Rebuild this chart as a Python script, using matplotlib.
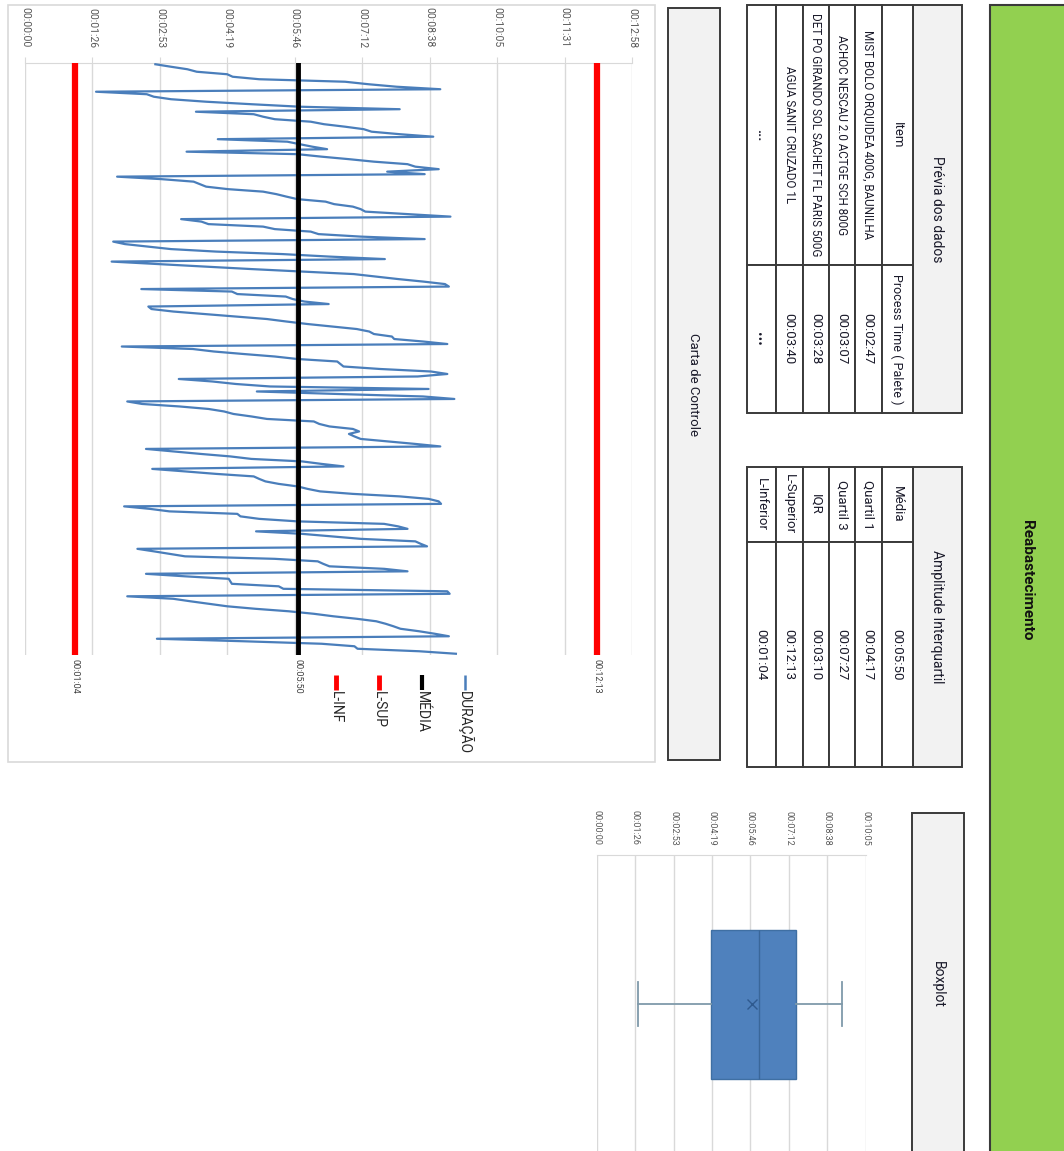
import matplotlib
matplotlib.use('Agg')
import matplotlib.pyplot as plt
from matplotlib.patches import Rectangle

W, H = 1064, 1151
DPI = 100
FONT = ['Roboto', 'DejaVu Sans']
plt.rcParams['font.family'] = FONT

# ---------------- data ----------------
# process time of each pallet, seconds (top to bottom)
duracao_s = [
    167, 187, 208, 220, 259, 266, 300, 410, 440, 476, 532,
    91, 156, 165, 187, 232, 290, 352, 480,
    219, 293, 305, 320, 366, 383, 410, 434, 444, 480, 523,
    247, 336, 352, 368, 387,
    207, 349, 380, 415, 447, 490, 500, 530, 464, 512,
    118, 175, 216, 224, 232, 260, 305, 322, 335, 349, 385, 396, 420, 430, 436, 490, 545,
    200, 226, 235, 305, 320, 366, 376, 430, 512,
    113, 128, 158, 187, 245, 330, 390, 461,
    111, 170, 230, 290, 355, 421, 450, 478, 510, 538, 543,
    149, 265, 272, 334, 343, 358, 389,
    158, 162, 190, 230, 270, 310, 335, 362, 394, 425, 441, 447, 470, 473, 510, 541,
    124, 215, 242, 280, 320, 349, 400, 404, 408, 455, 520, 541, 503,
    197, 240, 270, 314, 517,
    297, 400, 510, 550,
    131, 150, 198, 235, 255, 267, 290, 310, 370, 377, 390, 420, 428, 415, 422, 430, 465, 500, 532,
    155, 190, 225, 263, 290, 355, 380, 408,
    163, 205, 245, 293, 300, 308, 325, 349, 362, 378, 420, 480, 517, 530, 533,
    127, 160, 185, 272, 276, 300, 349, 460, 478, 490,
    296, 355, 393, 430, 500, 507, 515,
    144, 165, 185, 205, 320, 375, 382, 390, 460, 490,
    155, 205, 261, 263, 265, 325, 331, 541, 544,
    131, 190, 212, 235, 259, 295, 338, 370, 395, 425, 450, 462, 472, 481, 505, 525, 543,
    169, 280, 380, 422, 426, 505, 552,
]
media_s = 350      # 00:05:50
l_sup_s = 733      # 00:12:13
l_inf_s = 64       # 00:01:04
q1_s = 257         # 00:04:17
q3_s = 447         # 00:07:27
mediana_s = 364
whisker_lo_s = 92
whisker_hi_s = 551

tick_step_s = 86.4
chart_tick_labels = ['00:00:00', '00:01:26', '00:02:53', '00:04:19', '00:05:46',
                     '00:07:12', '00:08:38', '00:10:05', '00:11:31', '00:12:58']
box_tick_labels = ['00:00:00', '00:01:26', '00:02:53', '00:04:19', '00:05:46',
                   '00:07:12', '00:08:38', '00:10:05']
limit_labels = ['00:01:04', '00:05:50', '00:12:13']

previa_items = ['MIST BOLO ORQUIDEA 400G, BAUNILHA', 'ACHOC NESCAU 2.0 ACTGE SCH 800G',
                'DET PO GIRANDO SOL SACHET FL PARIS 500G', 'AGUA SANIT CRUZADO 1L', '...']
previa_tempos = ['00:02:47', '00:03:07', '00:03:28', '00:03:40', '...']
amp_labels = ['Média', 'Quartil 1', 'Quartil 3', 'IQR', 'L-Superior', 'L-Inferior']
amp_values = ['00:05:50', '00:04:17', '00:07:27', '00:03:10', '00:12:13', '00:01:04']
legend_labels = ['DURAÇÃO', 'MÉDIA', 'L-SUP', 'L-INF']

# ---------------- figure ----------------
fig = plt.figure(figsize=(W / DPI, H / DPI), dpi=DPI)
bg = fig.add_axes([0, 0, 1, 1])
bg.set_xlim(0, W)
bg.set_ylim(H, 0)
bg.axis('off')
bg.set_zorder(0)

BORDER = '#3a3a3a'
HEAD = '#F2F2F2'
TXT = '#1a1a2a'


def rect(x0, y0, x1, y1, fc='none', ec=BORDER, lw=1.4, z=1):
    bg.add_patch(Rectangle((x0, y0), x1 - x0, y1 - y0, facecolor=fc,
                           edgecolor=ec, linewidth=lw, zorder=z))


def vtext(x, y, s, size=10, color=TXT, weight='normal', va='center', ha='center'):
    if s == '...':
        size, weight = size + 2, 'bold'
    bg.text(x, y, s, rotation=-90, ha=ha, va=va, fontsize=size, color=color,
            fontweight=weight, family=FONT, zorder=5)


# green title bar
rect(990, 5, 1070, 1160, fc='#92D050', ec=BORDER, lw=1.5)
vtext(1027, 580, 'Reabastecimento', size=11, weight='bold', color='#111111')

# ---- table: Prévia dos dados ----
bands = [747, 776, 803, 829, 855, 882, 913, 962]
t1_y0, t1_split, t1_y1 = 5, 265, 413
rect(913, t1_y0, 962, t1_y1, fc=HEAD)
vtext(937, (t1_y0 + t1_y1) / 2, 'Prévia dos dados', size=10)
for k in range(6):
    x0, x1 = bands[k], bands[k + 1]
    rect(x0, t1_y0, x1, t1_split, fc='white')
    rect(x0, t1_split, x1, t1_y1, fc='white')
vtext(897, (t1_y0 + t1_split) / 2, 'Item', size=9.5)
vtext(897, (t1_split + t1_y1) / 2, 'Process Time ( Palete )', size=9)
row_x = [868, 842, 816, 789, 761]
for xr, it, tv in zip(row_x, previa_items, previa_tempos):
    vtext(xr, (t1_y0 + t1_split) / 2, it, size=8.4)
    vtext(xr, (t1_split + t1_y1) / 2, tv, size=9.5)

# ---- table: Amplitude Interquartil ----
t2_y0, t2_split, t2_y1 = 467, 542, 767
rect(913, t2_y0, 962, t2_y1, fc=HEAD)
vtext(937, (t2_y0 + t2_y1) / 2, 'Amplitude Interquartil', size=10)
amp_x = [897, 868, 842, 816, 789, 761]
for k in range(6):
    x0, x1 = bands[k], bands[k + 1]
    rect(x0, t2_y0, x1, t2_split, fc='white')
    rect(x0, t2_split, x1, t2_y1, fc='white')
for xr, lab, val in zip(amp_x, amp_labels, amp_values):
    vtext(xr, (t2_y0 + t2_split) / 2, lab, size=9.5)
    vtext(xr, (t2_split + t2_y1) / 2, val, size=9.5)

# ---- section headers ----
rect(668, 8, 720, 760, fc=HEAD)
vtext(694, 384, 'Carta de Controle', size=9.5)
rect(912, 813, 964, 1160, fc=HEAD)
vtext(938, 984, 'Boxplot', size=10)

# control chart frame
rect(8, 5, 655, 762, fc='white', ec='#D9D9D9', lw=1.2, z=0.5)

# ---------------- control chart ----------------
N = len(duracao_s)
idx = list(range(N))
ax = fig.add_axes([25 / W, 1 - 655 / H, 607 / W, 592 / H])
ax.set_zorder(2)
ax.patch.set_alpha(0)
ticks = [k * tick_step_s for k in range(len(chart_tick_labels))]
ax.set_xlim(0, ticks[-1])
ax.set_ylim(N - 0.5, -0.5)
ax.xaxis.tick_top()
ax.set_xticks(ticks)
ax.set_xticklabels(chart_tick_labels, rotation=-90, fontsize=7.5, color='#595959')
ax.tick_params(axis='x', length=4, color='#D9D9D9', pad=7)
ax.set_yticks([])
for s in ['left', 'right', 'bottom']:
    ax.spines[s].set_visible(False)
ax.spines['top'].set_color('#D9D9D9')
ax.grid(axis='x', color='#D9D9D9', lw=1)
ax.set_axisbelow(True)

ax.plot(duracao_s, idx, color='#4A7EBB', lw=1.6, zorder=3)
ax.plot([media_s] * N, idx, color='black', lw=3.5, zorder=4)
ax.plot([l_sup_s] * N, idx, color='#FF0000', lw=4.5, zorder=4)
ax.plot([l_inf_s] * N, idx, color='#FF0000', lw=4.5, zorder=4)
for v, lab in zip([l_inf_s, media_s, l_sup_s], limit_labels):
    ax.annotate(lab, xy=(v, N - 0.5), xytext=(0, -3), textcoords='offset points',
                rotation=-90, ha='center', va='top', fontsize=6.5, color='#404040',
                annotation_clip=False)

# manual legend (rotated)
leg_x = [465, 422, 379, 336]
leg_col = ['#4A7EBB', 'black', '#FF0000', '#FF0000']
leg_lw = [1.8, 3, 3.5, 3.5]
for xl, lab, c, lw in zip(leg_x, legend_labels, leg_col, leg_lw):
    bg.plot([xl, xl], [675, 690], color=c, lw=lw, zorder=5, solid_capstyle='butt')
    vtext(xl, 691, lab, size=10, color='#262626', va='top')

# ---------------- boxplot ----------------
bx = fig.add_axes([596.7 / W, 1 - 1153 / H, 269 / W, 298 / H])
bx.set_zorder(2)
bx.patch.set_alpha(0)
bticks = [k * tick_step_s for k in range(len(box_tick_labels))]
bx.set_xlim(0, bticks[-1])
bx.set_ylim(1.5, 0.5)
stats = [dict(med=mediana_s, q1=q1_s, q3=q3_s, whislo=whisker_lo_s,
              whishi=whisker_hi_s, mean=media_s, fliers=[])]
bx.bxp(stats, positions=[1], orientation='horizontal', widths=0.5, capwidths=0.148,
       showmeans=True, patch_artist=True,
       boxprops=dict(facecolor='#4F81BD', edgecolor='#3F6FA3', linewidth=1),
       medianprops=dict(color='#3A679A', linewidth=1),
       whiskerprops=dict(color='#7F9AAA', linewidth=1.3),
       capprops=dict(color='#7F9AAA', linewidth=1.3),
       meanprops=dict(marker='x', markeredgecolor='#2F5A8F', markersize=7))
bx.xaxis.tick_top()
bx.set_xticks(bticks)
bx.set_xticklabels(box_tick_labels, rotation=-90, fontsize=6.5, color='#595959')
bx.tick_params(axis='x', length=0, pad=7)
bx.set_yticks([])
for s in ['left', 'right', 'bottom']:
    bx.spines[s].set_visible(False)
bx.spines['top'].set_color('#D9D9D9')
bx.grid(axis='x', color='#D9D9D9', lw=1)
bx.set_axisbelow(True)

fig.savefig('out.png', dpi=DPI)
